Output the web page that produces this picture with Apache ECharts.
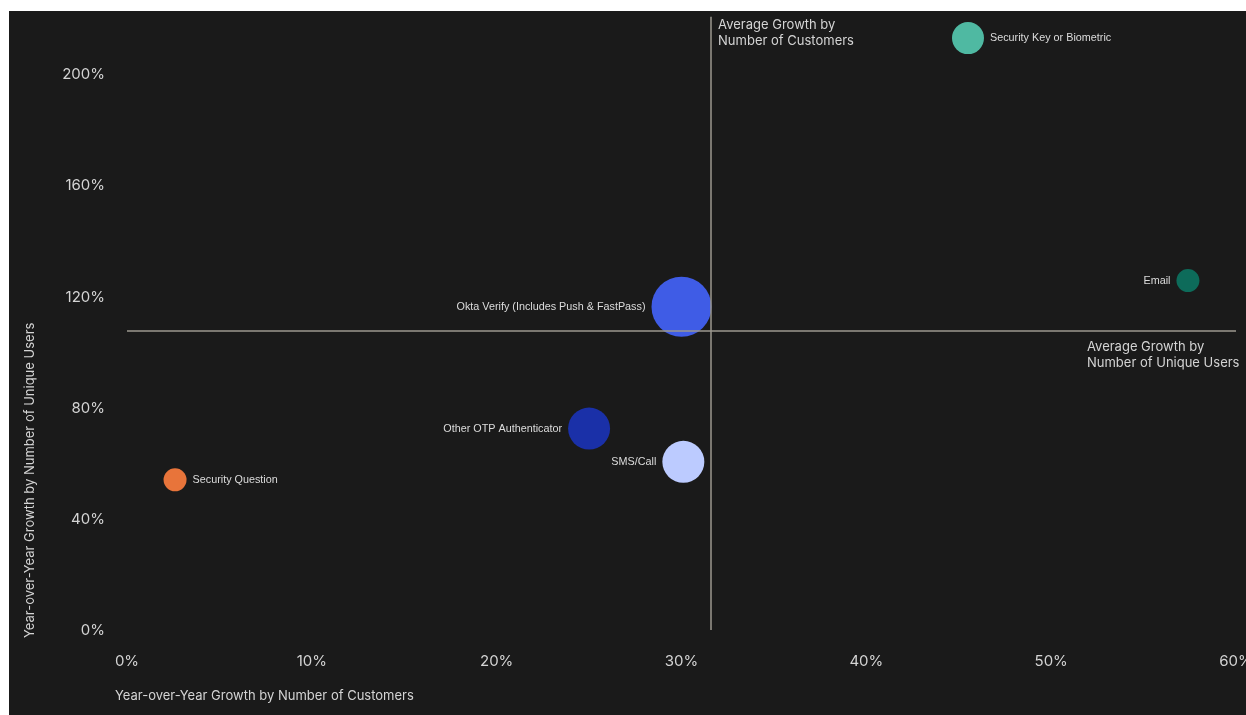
<!DOCTYPE html>
<html>
<head>
<meta charset="utf-8">
<title>Authenticator growth</title>
<script src="https://cdn.jsdelivr.net/npm/echarts@6/dist/echarts.min.js"></script>
<style>
  html, body { margin: 0; padding: 0; background: #ffffff; overflow: hidden; }
  #chart { position: absolute; left: 9px; top: 11px; width: 1237px; height: 704px; background: #1a1a1a; }
</style>
</head>
<body>
<div id="chart"></div>
<script>
// Authentication methods and their year-over-year growth
const methods = [
  'Security Key or Biometric',
  'Email',
  'Okta Verify (Includes Push & FastPass)',
  'Other OTP Authenticator',
  'SMS/Call',
  'Security Question'
];
const customerGrowth = [45.5, 57.4, 30.0, 25.0, 30.1, 2.6];   // % growth, number of customers
const userGrowth = [213.3, 125.9, 116.5, 72.6, 60.6, 54.1];   // % growth, number of unique users
const bubbleSize = [32, 23, 60, 42, 42, 23];
const methodColors = ['#4fb9a2', '#0d6b5a', '#3f5ce6', '#1a30a8', '#bccbff', '#e8743a'];
const labelSide = ['right', 'left', 'left', 'left', 'left', 'right'];

// Reference averages
const avgCustomerGrowth = 31.6;
const avgUserGrowth = 107.7;

const xTicks = [0, 10, 20, 30, 40, 50, 60];
const yTicks = [0, 40, 80, 120, 160, 200];

const textFont = 'Inter, "Noto Sans", sans-serif';
const pointFont = '"Liberation Sans", Arial, sans-serif';
const lineColor = '#9c988f';

const chart = echarts.init(document.getElementById('chart'), null, {
  renderer: 'canvas', width: 1237, height: 704
});

const seriesData = methods.map((name, i) => ({
  name: name,
  value: [customerGrowth[i], userGrowth[i]],
  symbolSize: bubbleSize[i],
  itemStyle: { color: methodColors[i], opacity: 1 },
  label: { position: labelSide[i] }
}));

chart.setOption({
  backgroundColor: '#1a1a1a',
  animation: false,
  grid: { left: 118, right: 10, top: 5.7, bottom: 85, containLabel: false, outerBoundsMode: 'none' },
  xAxis: {
    type: 'value',
    min: xTicks[0],
    max: xTicks[xTicks.length - 1],
    interval: xTicks[1] - xTicks[0],
    axisLine: { show: false },
    axisTick: { show: false },
    splitLine: { show: false },
    axisLabel: {
      color: '#d4d4d4',
      fontFamily: textFont,
      fontSize: 15,
      margin: 24,
      formatter: v => v + '%'
    }
  },
  yAxis: {
    type: 'value',
    min: yTicks[0],
    max: 221,
    interval: yTicks[1] - yTicks[0],
    axisLine: { show: false },
    axisTick: { show: false },
    splitLine: { show: false },
    axisLabel: {
      color: '#d4d4d4',
      fontFamily: textFont,
      fontSize: 15,
      margin: 22,
      showMaxLabel: false,
      formatter: v => (yTicks.indexOf(v) >= 0 ? v + '%' : '')
    }
  },
  series: [{
    type: 'scatter',
    data: seriesData,
    label: {
      show: true,
      formatter: p => p.name,
      color: '#dcdcdc',
      fontFamily: pointFont,
      fontSize: 10.8,
      distance: 6
    },
    emphasis: { disabled: true },
    markLine: {
      silent: true,
      symbol: 'none',
      label: { show: false },
      lineStyle: { color: lineColor, width: 1.5, type: 'solid' },
      data: [
        { xAxis: avgCustomerGrowth },
        { yAxis: avgUserGrowth }
      ]
    }
  }]
});

// Annotations placed from the axis scales
const rect = chart.getModel().getComponent('grid').coordinateSystem.getRect();
const avgPt = chart.convertToPixel({ gridIndex: 0 }, [avgCustomerGrowth, avgUserGrowth]);

chart.setOption({
  graphic: [
    {
      type: 'text',
      x: avgPt[0] + 7,
      y: 6,
      style: {
        text: 'Average Growth by\nNumber of Customers',
        fill: '#d4d4d4',
        font: '13px ' + textFont,
        lineHeight: 16,
        textAlign: 'left',
        textVerticalAlign: 'top'
      }
    },
    {
      type: 'text',
      x: rect.x + rect.width - 149,
      y: avgPt[1] + 8,
      style: {
        text: 'Average Growth by\nNumber of Unique Users',
        fill: '#d4d4d4',
        font: '13px ' + textFont,
        lineHeight: 16,
        textAlign: 'left',
        textVerticalAlign: 'top'
      }
    },
    {
      type: 'text',
      x: rect.x - 12,
      y: rect.y + rect.height + 66,
      style: {
        text: 'Year-over-Year Growth by Number of Customers',
        fill: '#d4d4d4',
        font: '13px ' + textFont,
        textAlign: 'left',
        textVerticalAlign: 'middle'
      }
    },
    {
      type: 'text',
      x: 21,
      y: rect.y + rect.height + 8,
      rotation: Math.PI / 2,
      style: {
        text: 'Year-over-Year Growth by Number of Unique Users',
        fill: '#d4d4d4',
        font: '13px ' + textFont,
        textAlign: 'left',
        textVerticalAlign: 'middle'
      }
    }
  ]
});
</script>
</body>
</html>
